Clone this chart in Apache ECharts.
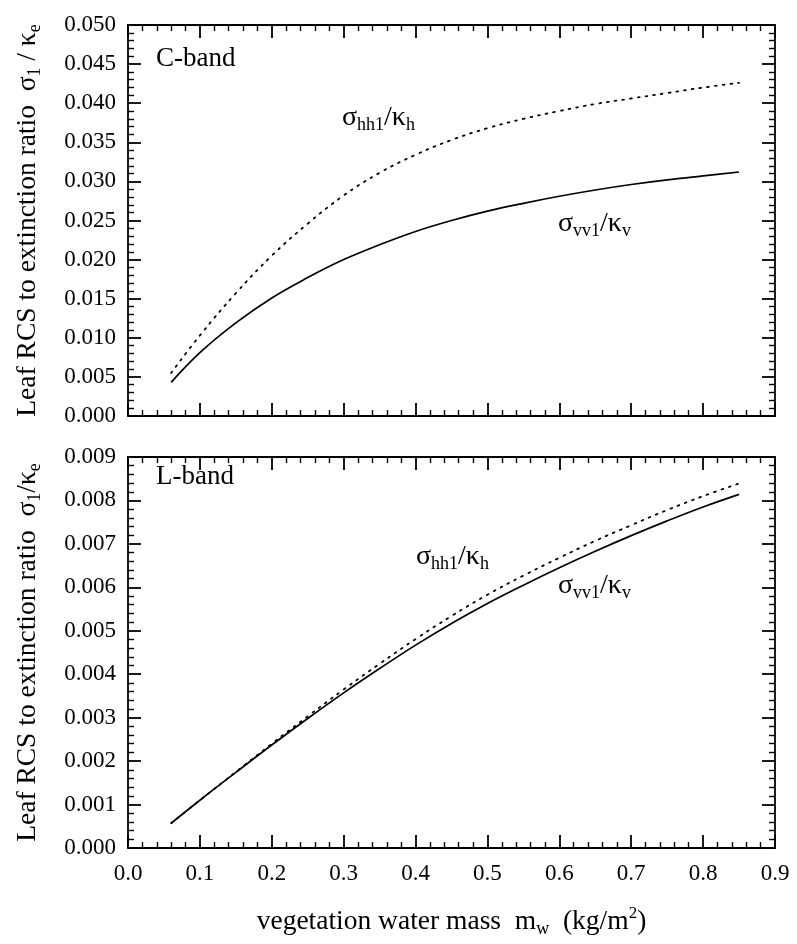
<!DOCTYPE html>
<html>
<head>
<meta charset="utf-8">
<script src="https://cdn.jsdelivr.net/npm/echarts@6/dist/echarts.min.js"></script>
<style>
  html, body { margin: 0; padding: 0; background: #fff; }
  #chart { width: 797px; height: 944px; }
</style>
</head>
<body>
<div id="chart"></div>
<script>
// water mass (kg/m2)
const mw = [0.06, 0.1, 0.15, 0.2, 0.25, 0.3, 0.35, 0.4, 0.45, 0.5, 0.55, 0.6, 0.65, 0.7, 0.75, 0.8, 0.85];

// C-band
const cVV = [0.0043, 0.0081, 0.0119, 0.0151, 0.0177, 0.0200, 0.0219, 0.0236, 0.0250, 0.0262, 0.0272, 0.0281, 0.0289, 0.0296, 0.0302, 0.0307, 0.0312];
const cHH = [0.0055, 0.0103, 0.0157, 0.0205, 0.0246, 0.0282, 0.0311, 0.0334, 0.0353, 0.0368, 0.0380, 0.0390, 0.0399, 0.0406, 0.0413, 0.0420, 0.0426];

// L-band
const lVV = [0.00057, 0.0011, 0.00174, 0.00237, 0.00298, 0.00357, 0.00413, 0.00467, 0.00517, 0.00563, 0.00605, 0.00645, 0.00683, 0.00719, 0.00753, 0.00785, 0.00814];
const lHH = [0.00057, 0.0011, 0.00175, 0.0024, 0.00303, 0.00365, 0.00424, 0.00481, 0.00534, 0.00583, 0.00627, 0.00668, 0.00707, 0.00743, 0.00778, 0.0081, 0.00839];

const FONT = '"Liberation Serif", "DejaVu Serif", serif';
const zip = (xs, ys) => xs.map((x, i) => [x, ys[i]]);

const rich = {
  a: { fontFamily: FONT, fontSize: 27.5, color: '#000' },
  m: { fontFamily: FONT, fontSize: 28, color: '#000' },
  s: { fontFamily: FONT, fontSize: 18, color: '#000', padding: [15, 0, 0, 0] },
  p: { fontFamily: FONT, fontSize: 17, color: '#000', padding: [0, 0, 15, 0] }
};

const tickBase = {
  axisLine: { show: true, onZero: false, lineStyle: { color: '#000', width: 1.8 } },
  axisTick: { show: true, inside: true, length: 13, lineStyle: { color: '#000', width: 1.8 } },
  minorTick: { show: true, splitNumber: 5, length: 6, lineStyle: { color: '#000', width: 1.4 } },
  splitLine: { show: false },
  axisLabel: { show: false }
};

const xAx = (gridIndex, position, labels) => ({
  ...tickBase,
  type: 'value', gridIndex, position,
  min: 0, max: 0.9, interval: 0.1,
  axisLabel: labels ? {
    show: true, margin: 14, fontFamily: FONT, fontSize: 23, color: '#000',
    formatter: v => v.toFixed(1)
  } : { show: false },
  name: labels ? '{a|vegetation water mass  m}{s|w}{a|  (kg/m}{p|2}{a|)}' : '',
  nameLocation: 'middle', nameGap: 57,
  nameTextStyle: { rich }
});

const yAx = (gridIndex, position, max, interval, labels, name) => ({
  ...tickBase,
  type: 'value', gridIndex, position,
  min: 0, max, interval,
  axisLabel: labels ? {
    show: true, margin: 12, fontFamily: FONT, fontSize: 23, color: '#000',
    formatter: v => v.toFixed(3)
  } : { show: false },
  name: name || '',
  nameLocation: 'middle', nameGap: 84, nameRotate: 90,
  nameTextStyle: { rich }
});

const line = (xi, yi, ys, dotted) => ({
  type: 'line', xAxisIndex: xi, yAxisIndex: yi,
  data: zip(mw, ys), smooth: 0.4, showSymbol: false, silent: true,
  lineStyle: dotted
    ? { color: '#000', width: 1.8, type: [1.8, 6], cap: 'round' }
    : { color: '#000', width: 1.7 }
});

const label = (left, top, txt) => ({
  type: 'text', left, top,
  style: { text: txt, rich, fill: '#000' }
});

const chart = echarts.init(document.getElementById('chart'));
chart.setOption({
  animation: false,
  backgroundColor: '#fff',
  grid: [
    { left: 128, right: 22, top: 25, height: 391 },
    { left: 128, right: 22, top: 457, height: 391 }
  ],
  xAxis: [
    xAx(0, 'bottom', false), xAx(0, 'top', false),
    xAx(1, 'bottom', true), xAx(1, 'top', false)
  ],
  yAxis: [
    yAx(0, 'left', 0.05, 0.005, true, '{a|Leaf RCS to extinction ratio  σ}{s|1}{a| / κ}{s|e}'),
    yAx(0, 'right', 0.05, 0.005, false),
    yAx(1, 'left', 0.009, 0.001, true, '{a|Leaf RCS to extinction ratio  σ}{s|1}{a|/κ}{s|e}'),
    yAx(1, 'right', 0.009, 0.001, false)
  ],
  series: [
    line(0, 0, cVV, false),
    line(0, 0, cHH, true),
    line(2, 2, lVV, false),
    line(2, 2, lHH, true)
  ],
  graphic: [
    { type: 'text', left: 156, top: 45, style: { text: 'C-band', font: '27px ' + FONT, fill: '#000' } },
    { type: 'text', left: 156, top: 463, style: { text: 'L-band', font: '27px ' + FONT, fill: '#000' } },
    label(342, 104, '{m|σ}{s|hh1}{m|/κ}{s|h}'),
    label(558, 210, '{m|σ}{s|vv1}{m|/κ}{s|v}'),
    label(416, 543, '{m|σ}{s|hh1}{m|/κ}{s|h}'),
    label(558, 572, '{m|σ}{s|vv1}{m|/κ}{s|v}')
  ]
});
</script>
</body>
</html>
